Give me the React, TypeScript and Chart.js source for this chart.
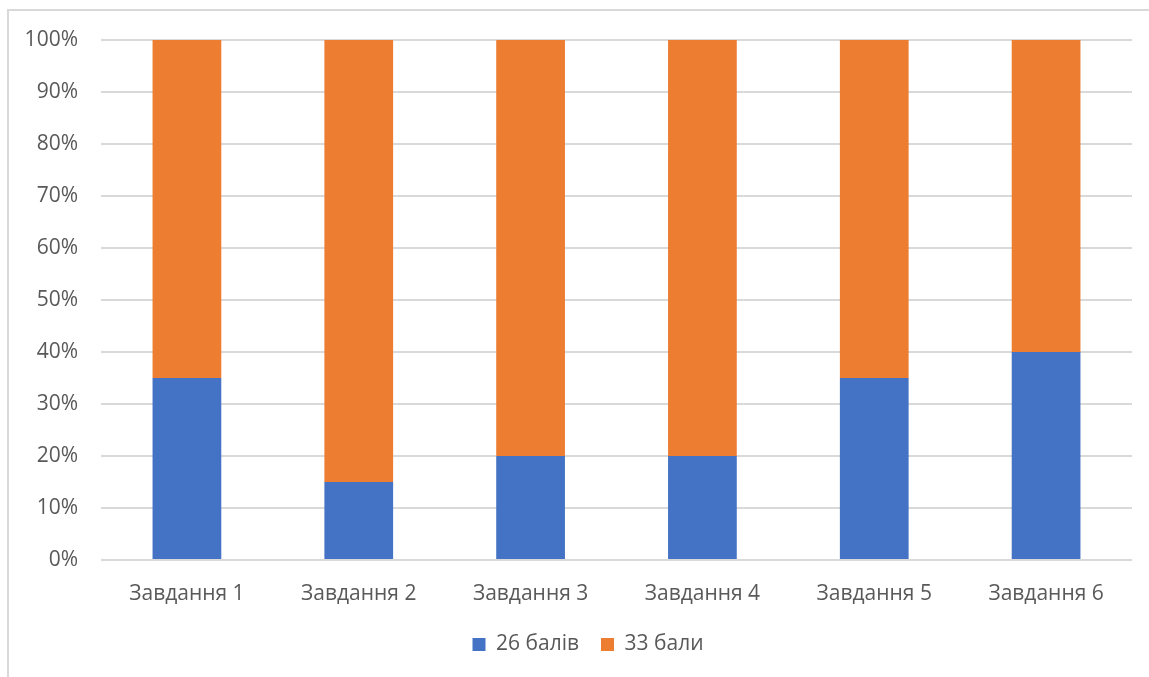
import React, { useEffect, useRef } from "react";
import { Chart, registerables } from "chart.js";

Chart.register(...registerables);

const categories = ["Завдання 1", "Завдання 2", "Завдання 3", "Завдання 4", "Завдання 5", "Завдання 6"];
const seriesNames = ["26 балів", "33 бали"];
const share26 = [35, 15, 20, 20, 35, 40];
const share33 = [65, 85, 80, 80, 65, 60];
const colors = ["#4472C4", "#ED7D31"];

const FONT = "'Open Sans', 'Noto Sans', sans-serif";
const TEXT = "#595959";
const GRID = "#D9D9D9";

// The legend sits centred under the whole frame, not under the plot area alone.
const legendShift = {
  id: "legendShift",
  afterLayout(chart: any) {
    const lg = chart.legend;
    if (!lg) return;
    lg.left += 22;
    lg.right += 22;
  },
};

export default function App() {
  const canvasRef = useRef<HTMLCanvasElement | null>(null);

  useEffect(() => {
    const canvas = canvasRef.current;
    if (!canvas) return;
    const chart = new Chart(canvas, {
      type: "bar",
      data: {
        labels: categories,
        datasets: [
          { label: seriesNames[0], data: share26, backgroundColor: colors[0], barPercentage: 0.8, categoryPercentage: 0.5 },
          { label: seriesNames[1], data: share33, backgroundColor: colors[1], barPercentage: 0.8, categoryPercentage: 0.5 },
        ],
      },
      plugins: [legendShift],
      options: {
        animation: false,
        responsive: false,
        layout: { padding: { top: 40, right: 17, bottom: 12, left: 0 } },
        plugins: {
          tooltip: { enabled: false },
          legend: {
            position: "bottom",
            labels: {
              boxWidth: 13,
              boxHeight: 13,
              padding: 22,
              color: TEXT,
              font: { family: FONT, size: 21 },
            },
          },
        },
        scales: {
          x: {
            stacked: true,
            afterFit: (scale: any) => {
              scale.height = 52;
            },
            grid: { display: false, drawTicks: false },
            border: { display: false },
            ticks: { color: TEXT, padding: 21, font: { family: FONT, size: 21 } },
          },
          y: {
            stacked: true,
            min: 0,
            max: 100,
            afterFit: (scale: any) => {
              scale.width = 101;
            },
            grid: { color: GRID, lineWidth: 2, drawTicks: false },
            border: { display: false },
            ticks: {
              stepSize: 10,
              color: TEXT,
              padding: 23,
              font: { family: FONT, size: 21 },
              callback: (v: any) => v + "%",
            },
          },
        },
      },
    });
    return () => chart.destroy();
  }, []);

  return (
    <div style={{ position: "fixed", left: 0, top: 0, width: 1149, height: 677, background: "#fff", overflow: "hidden" }}>
      <div
        style={{
          position: "absolute",
          left: 7,
          top: 9,
          width: 1160,
          height: 700,
          borderLeft: "2px solid " + GRID,
          borderTop: "2px solid " + GRID,
          boxSizing: "border-box",
        }}
      />
      <canvas ref={canvasRef} width={1149} height={677} style={{ position: "absolute", left: 0, top: 0 }} />
    </div>
  );
}
